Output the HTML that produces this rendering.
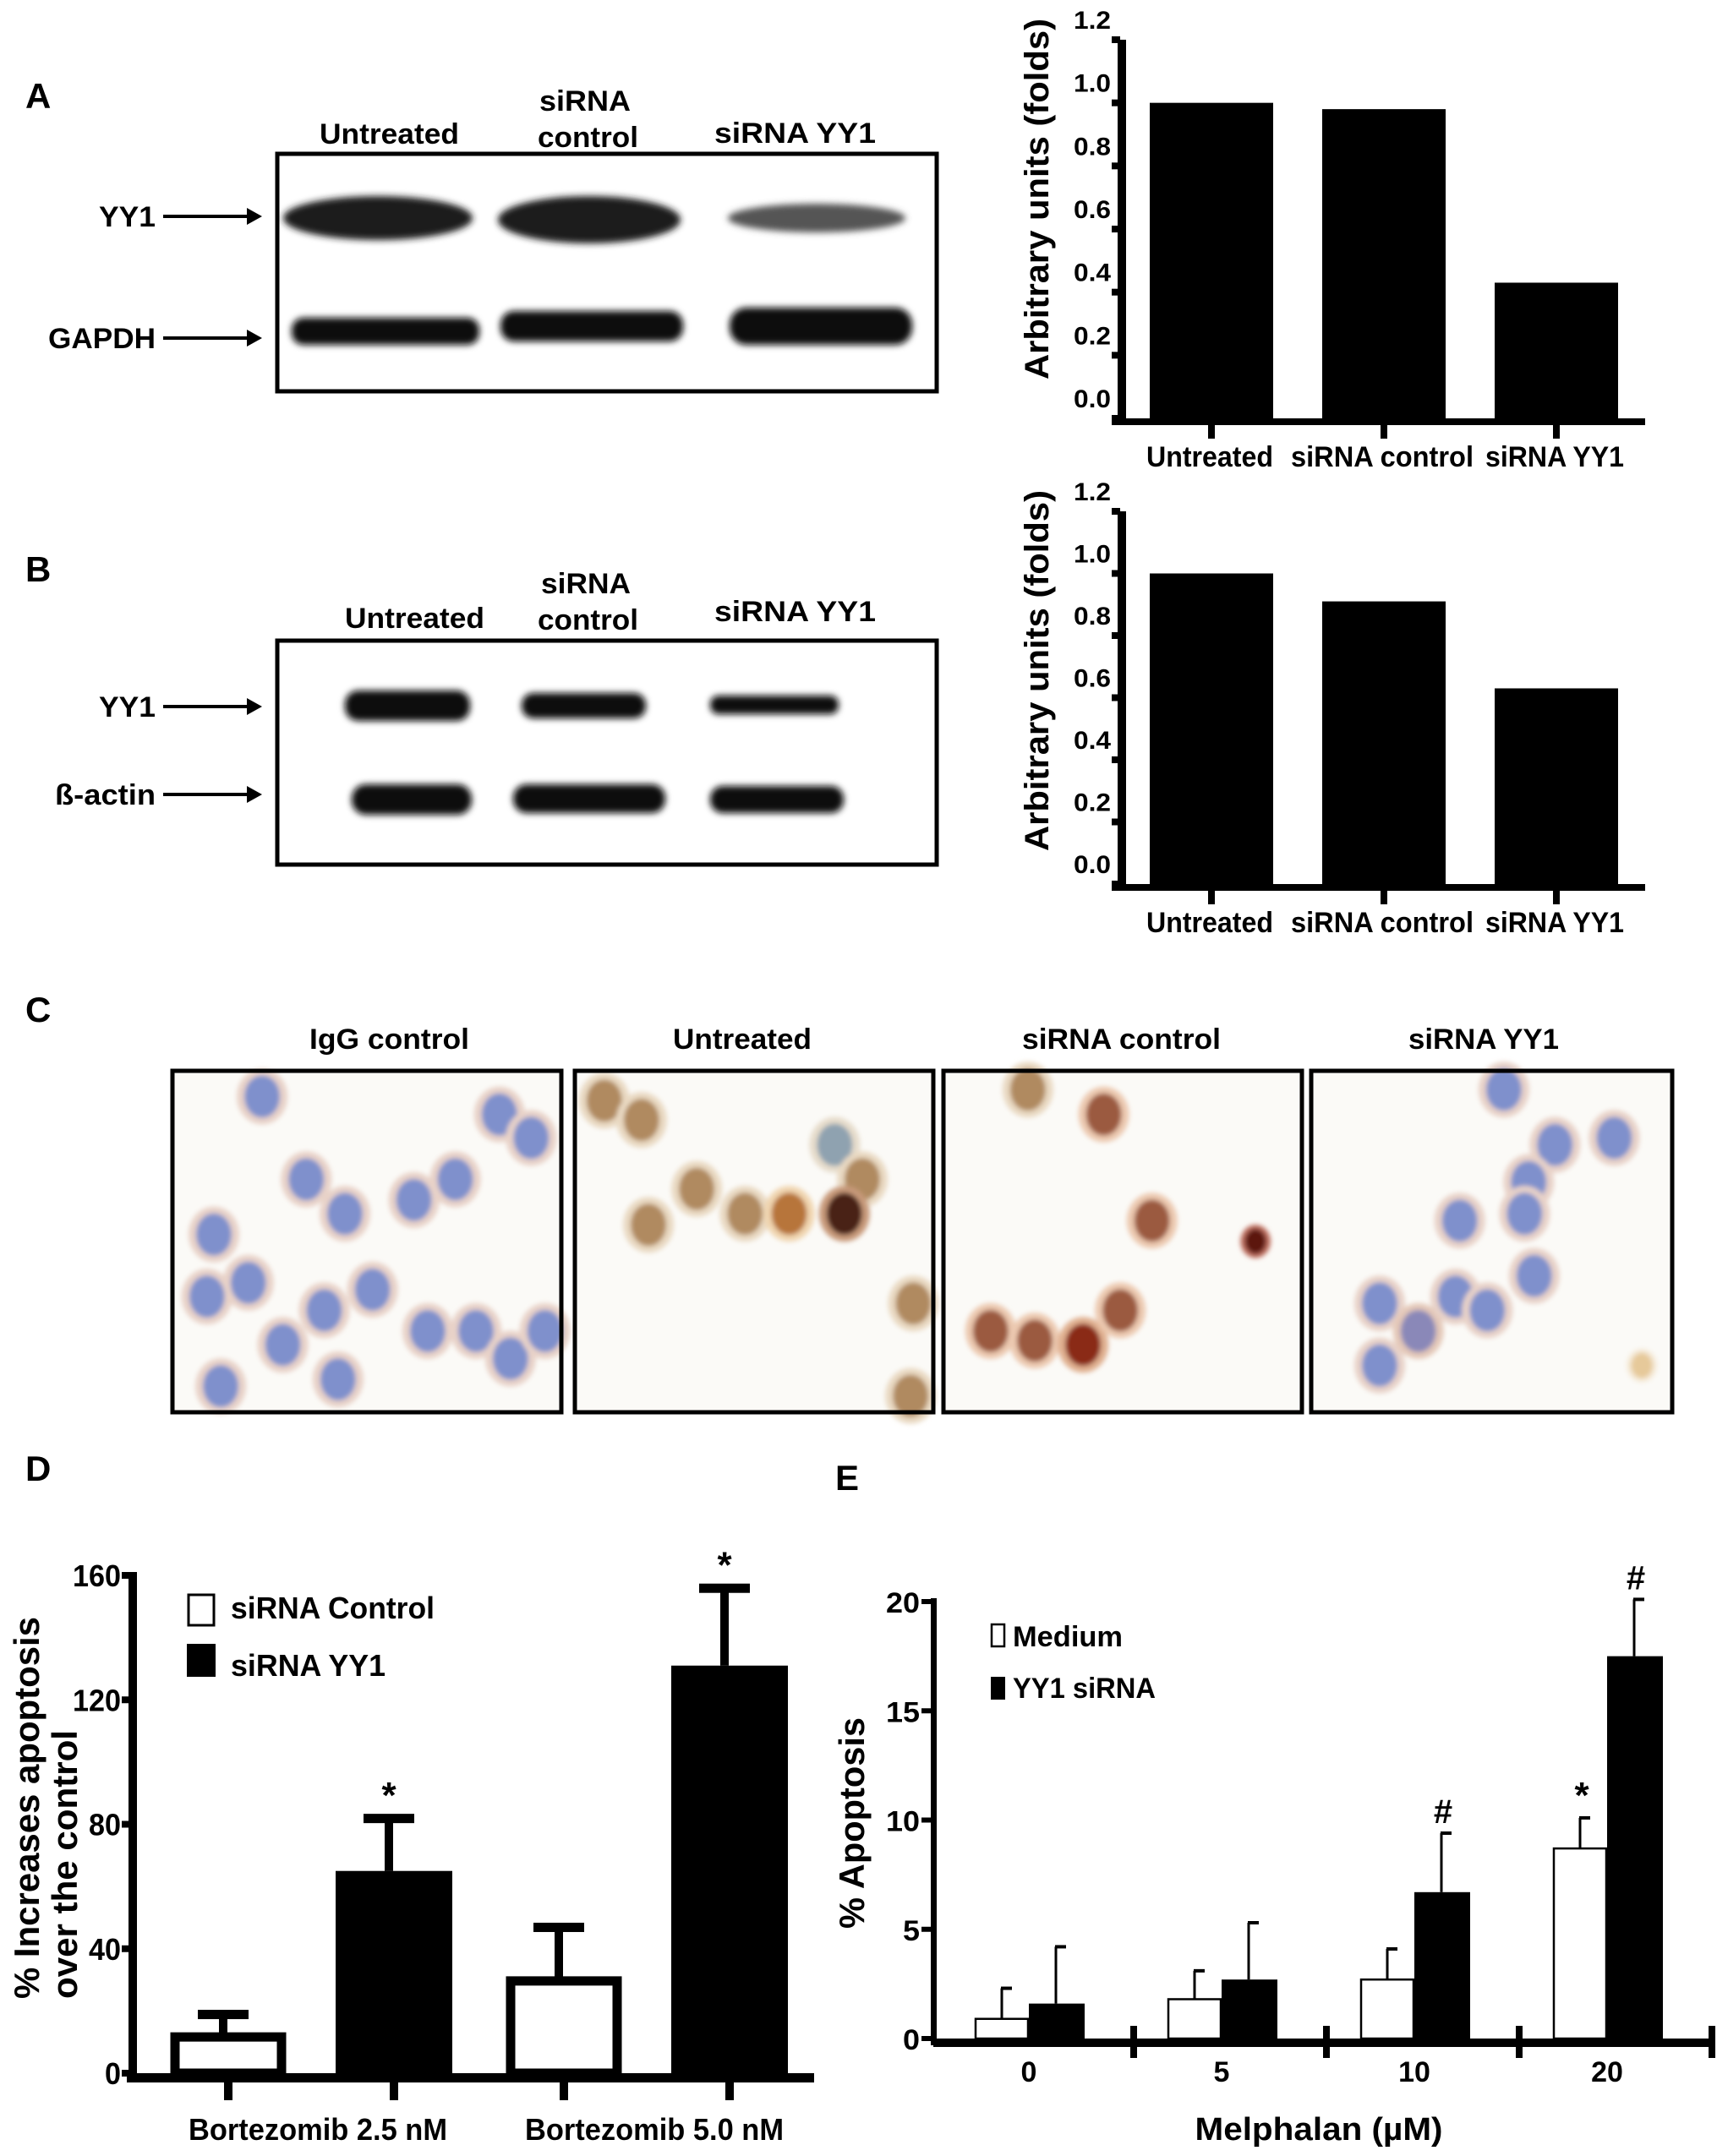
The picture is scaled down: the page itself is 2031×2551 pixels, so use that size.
<!DOCTYPE html>
<html><head><meta charset="utf-8"><style>
html,body{margin:0;padding:0;background:#fff;}
svg{display:block;font-family:"Liberation Sans",sans-serif;font-weight:bold;}
</style></head><body>
<svg id="fig" xmlns="http://www.w3.org/2000/svg" width="2031" height="2551" viewBox="0 0 2031 2551">
<defs>
<filter id="blur" x="-20%" y="-50%" width="140%" height="200%"><feGaussianBlur stdDeviation="4"/></filter>
<filter id="cblur" x="-30%" y="-30%" width="160%" height="160%"><feGaussianBlur stdDeviation="3"/></filter>
</defs>
<rect width="2031" height="2551" fill="#fff"/>

<!-- Panel letters -->
<text x="30" y="128" font-size="42">A</text>
<text x="30" y="688" font-size="42">B</text>
<text x="30" y="1209" font-size="42">C</text>
<text x="30" y="1752" font-size="42">D</text>
<text x="988" y="1763" font-size="42">E</text>

<!-- Blot A -->
<g>
<text x="378" y="170" font-size="34" textLength="165" lengthAdjust="spacingAndGlyphs">Untreated</text>
<text x="638" y="131" font-size="34" textLength="108" lengthAdjust="spacingAndGlyphs">siRNA</text>
<text x="636" y="174" font-size="34" textLength="119" lengthAdjust="spacingAndGlyphs">control</text>
<text x="845" y="169" font-size="34" textLength="191" lengthAdjust="spacingAndGlyphs">siRNA  YY1</text>
<rect x="328" y="182" width="780" height="281" fill="#fff" stroke="#000" stroke-width="5"/>
<g filter="url(#blur)">
<ellipse cx="447" cy="258" rx="112" ry="26" fill="#1a1a1a"/>
<ellipse cx="697" cy="260" rx="108" ry="28" fill="#1a1a1a"/>
<ellipse cx="966" cy="258" rx="105" ry="17" fill="#555"/>
<rect x="345" y="376" width="222" height="32" rx="14" fill="#080808"/>
<rect x="592" y="368" width="216" height="36" rx="16" fill="#080808"/>
<rect x="863" y="364" width="216" height="44" rx="20" fill="#080808"/>
</g>
<text x="184" y="268" font-size="34" text-anchor="end" textLength="67" lengthAdjust="spacingAndGlyphs">YY1</text>
<line x1="193" y1="256" x2="295" y2="256" stroke="#000" stroke-width="4"/>
<polygon points="292,246 310,256 292,266" fill="#000"/>
<text x="184" y="412" font-size="34" text-anchor="end" textLength="127" lengthAdjust="spacingAndGlyphs">GAPDH</text>
<line x1="193" y1="400" x2="295" y2="400" stroke="#000" stroke-width="4"/>
<polygon points="292,390 310,400 292,410" fill="#000"/>
</g>

<!-- Blot B -->
<g>
<text x="408" y="743" font-size="34" textLength="165" lengthAdjust="spacingAndGlyphs">Untreated</text>
<text x="640" y="702" font-size="34" textLength="106" lengthAdjust="spacingAndGlyphs">siRNA</text>
<text x="636" y="745" font-size="34" textLength="119" lengthAdjust="spacingAndGlyphs">control</text>
<text x="845" y="735" font-size="34" textLength="191" lengthAdjust="spacingAndGlyphs">siRNA  YY1</text>
<rect x="328" y="758" width="780" height="265" fill="#fff" stroke="#000" stroke-width="5"/>
<g filter="url(#blur)">
<rect x="408" y="817" width="148" height="36" rx="16" fill="#080808"/>
<rect x="617" y="820" width="147" height="30" rx="14" fill="#080808"/>
<rect x="840" y="823" width="152" height="22" rx="10" fill="#111"/>
<rect x="416" y="928" width="142" height="36" rx="17" fill="#080808"/>
<rect x="607" y="928" width="180" height="34" rx="16" fill="#080808"/>
<rect x="840" y="930" width="158" height="32" rx="15" fill="#080808"/>
</g>
<text x="184" y="848" font-size="34" text-anchor="end" textLength="67" lengthAdjust="spacingAndGlyphs">YY1</text>
<line x1="193" y1="836" x2="295" y2="836" stroke="#000" stroke-width="4"/>
<polygon points="292,826 310,836 292,846" fill="#000"/>
<text x="184" y="952" font-size="34" text-anchor="end" textLength="119" lengthAdjust="spacingAndGlyphs">ß-actin</text>
<line x1="193" y1="940" x2="295" y2="940" stroke="#000" stroke-width="4"/>
<polygon points="292,930 310,940 292,950" fill="#000"/>
</g>

<g id="chartA"></g>
<g id="chartB"></g>

<!-- Panel C -->
<g id="panelC">
<text x="366" y="1241" font-size="34" textLength="189" lengthAdjust="spacingAndGlyphs">IgG control</text>
<text x="796" y="1241" font-size="34" textLength="164" lengthAdjust="spacingAndGlyphs">Untreated</text>
<text x="1209" y="1241" font-size="34" textLength="235" lengthAdjust="spacingAndGlyphs">siRNA control</text>
<text x="1666" y="1241" font-size="34" textLength="178" lengthAdjust="spacingAndGlyphs">siRNA YY1</text>
</g>

<g id="chartD"></g>
<g id="chartE"></g>
</svg>
<script>
const NS = 'http://www.w3.org/2000/svg';
function mk(parent, tag, attrs, txt) {
  const el = document.createElementNS(NS, tag);
  for (const k in attrs) el.setAttribute(k, attrs[k]);
  if (txt !== undefined) el.textContent = txt;
  parent.appendChild(el);
  return el;
}

/* ---------- Charts A / B data ---------- */
const catsAB = ['Untreated', 'siRNA control', 'siRNA YY1'];
const valsA = [1.0, 0.98, 0.43];
const valsB = [1.0, 0.91, 0.63];
const ticksAB = [0, 0.2, 0.4, 0.6, 0.8, 1.0, 1.2];
const tickLabelsAB = ['0.0', '0.2', '0.4', '0.6', '0.8', '1.0', '1.2'];

/* ---------- Chart D data ---------- */
const catsD = ['Bortezomib 2.5 nM', 'Bortezomib 5.0 nM'];
const seriesD = ['siRNA Control', 'siRNA YY1'];
const ctrlD = [13, 31];
const ctrlErrD = [6, 16];
const yy1D = [65, 131];
const yy1ErrD = [17, 25];
const ticksD = [0, 40, 80, 120, 160];
const tickLabelsD = ['0', '40', '80', '120', '160'];

/* ---------- Chart E data ---------- */
const catsE = ['0', '5', '10', '20'];
const seriesE = ['Medium', 'YY1 siRNA'];
const medE = [0.9, 1.8, 2.7, 8.7];
const medErrE = [1.4, 1.3, 1.4, 1.4];
const yy1E = [1.6, 2.7, 6.7, 17.5];
const yy1ErrE = [2.6, 2.6, 2.7, 2.6];
const medMarkE = ['', '', '', '*'];
const yy1MarkE = ['', '', '#', '#'];
const ticksE = [0, 5, 10, 15, 20];
const tickLabelsE = ['0', '5', '10', '15', '20'];

function drawAB(g, vals, base, top, prefix) {
  const y = v => base - v / 1.2 * (base - top);
  const x = i => 1433 + i * 204;
  const t = mk(g, 'text', {x: 0, y: 0, 'font-size': 40, transform: 'translate(1240,' + (top + 402) + ') rotate(-90)', textLength: 427, lengthAdjust: 'spacingAndGlyphs'}, 'Arbitrary units (folds)');
  
  
  vals.forEach((v, i) => {
    const b = mk(g, 'rect', {x: x(i) - 73, y: y(v), width: 146, height: base - y(v), fill: '#000'});
    
    
    const tk = mk(g, 'rect', {x: x(i) - 4, y: base, width: 8, height: 24, fill: '#000'});
    
    
  });
  const wc = [150, 216, 164];
  catsAB.forEach((c, i) => {
    const lt = mk(g, 'text', {x: x(i) - 2, y: base + 57, 'font-size': 34, 'text-anchor': 'middle', textLength: wc[i], lengthAdjust: 'spacingAndGlyphs'}, c);
    
    
  });
  const ax = mk(g, 'rect', {x: 1322, y: top, width: 10, height: base - top + 8, fill: '#000'});
  
  
  const bl = mk(g, 'rect', {x: 1315, y: base, width: 631, height: 8, fill: '#000'});
  
  
  ticksAB.forEach((v, i) => {
    const tm = mk(g, 'rect', {x: 1315, y: y(v) - 4, width: 10, height: 8, fill: '#000'});
    
    
    const tl = mk(g, 'text', {x: 1314, y: y(v) - 13, 'font-size': 30, 'text-anchor': 'end', textLength: 44, lengthAdjust: 'spacingAndGlyphs'}, tickLabelsAB[i]);
    
    
  });
}
drawAB(document.getElementById('chartA'), valsA, 495, 47, 'chart-a');
drawAB(document.getElementById('chartB'), valsB, 1046, 605, 'chart-b');

/* ---------- Panel C micrographs ---------- */
const pc = document.getElementById('panelC');
const frames = [[204, 1267, 460, 404], [680, 1267, 424, 404], [1116, 1267, 424, 404], [1551, 1267, 427, 404]];
const cellsC = [
  [[190,795,'b'],[222,855,'b'],[155,895,'b'],[180,930,'b'],[250,880,'b'],[270,935,'b'],[300,870,'b'],[330,855,'b'],[362,808,'b'],[385,825,'b'],[235,950,'b'],[205,975,'b'],[245,1000,'b'],[310,965,'b'],[345,965,'b'],[370,985,'b'],[395,965,'b'],[160,1005,'b'],[150,940,'b']],
  [[438,798,'t'],[465,812,'t'],[605,830,'g'],[625,855,'t'],[470,888,'t'],[505,862,'t'],[540,880,'t'],[572,880,'o'],[612,880,'d'],[662,945,'t'],[660,1012,'t']],
  [[745,790,'t'],[800,808,'r'],[835,885,'r'],[910,900,'x'],[718,965,'r'],[750,972,'r'],[785,975,'x2'],[812,950,'r']],
  [[1090,790,'b'],[1127,830,'b'],[1108,857,'b'],[1058,885,'b'],[1170,825,'b'],[1105,880,'b'],[1000,945,'b'],[1028,965,'bt'],[1055,940,'b'],[1078,950,'b'],[1112,925,'b'],[1000,990,'b'],[1190,990,'y']]
];
const cellColors = {b:['#7f90cc','#e8d2c8'], t:['#b08a60','#e9d9c2'], g:['#8fa2b0','#e6dccb'], o:['#b7743a','#f0d5b0'], d:['#4a2218','#c89a7a'], r:['#9b5a40','#ecc9b0'], x:['#5c1510','#c07060'], x2:['#8a2a18','#e0b090'], bt:['#8a88b8','#e4c8b8'], y:['#e6c99a','#f5ead8']};
frames.forEach((f, k) => {
  const bg = mk(pc, 'rect', {x: f[0], y: f[1], width: f[2], height: f[3], fill: '#fbfaf7'});
  
  
  const cg = mk(pc, 'g', {filter: 'url(#cblur)'});
  cellsC[k].forEach((c, j) => {
    const col = cellColors[c[2]];
    const cx = c[0] * 1.632, cy = c[1] * 1.632;
    const small = (c[2] === 'x' || c[2] === 'y') ? 0.6 : 1;
    const halo = mk(cg, 'ellipse', {cx: cx, cy: cy, rx: 30 * small, ry: 33 * small, fill: col[1]});
    
    
    const core = mk(cg, 'ellipse', {cx: cx, cy: cy, rx: 21 * small, ry: 25 * small, fill: col[0]});
    
    
  });
  const fr = mk(pc, 'rect', {x: f[0], y: f[1], width: f[2], height: f[3], fill: 'none', stroke: '#000', 'stroke-width': 5});
  
  
});

/* ---------- Chart D ---------- */
(function () {
  const g = document.getElementById('chartD');
  const base = 2453, top = 1864;
  const y = v => base - v / 160 * (base - top);
  const x = (gi, s) => 270 + gi * 397 + s * 196;
  const lbls = ['% Increases apoptosis', 'over the control'];
  const t1 = mk(g, 'text', {x: 0, y: 0, 'font-size': 42, transform: 'translate(46,2365) rotate(-90)', textLength: 452, lengthAdjust: 'spacingAndGlyphs'}, lbls[0]);
  
  
  const t2 = mk(g, 'text', {x: 0, y: 0, 'font-size': 42, transform: 'translate(91,2365) rotate(-90)', textLength: 318, lengthAdjust: 'spacingAndGlyphs'}, lbls[1]);
  
  
  function bar(gi, s, v, e, name) {
    const cx = x(gi, s);
    const el = mk(g, 'line', {x1: cx - 6, y1: y(v), x2: cx - 6, y2: y(v + e), stroke: '#000', 'stroke-width': 10});
    
    
    const cap = mk(g, 'rect', {x: cx - 36, y: y(v + e) - 5, width: 60, height: 11, fill: '#000'});
    
    
    const b = s === 0
      ? mk(g, 'rect', {x: cx - 63, y: y(v) + 5, width: 126, height: base - y(v) - 5, fill: '#fff', stroke: '#000', 'stroke-width': 11})
      : mk(g, 'rect', {x: cx - 69, y: y(v), width: 138, height: base - y(v), fill: '#000'});
    
    
  }
  catsD.forEach((c, gi) => {
    bar(gi, 0, ctrlD[gi], ctrlErrD[gi], 'chart-d-bar-control-' + gi);
    bar(gi, 1, yy1D[gi], yy1ErrD[gi], 'chart-d-bar-yy1-' + gi);
    const st = mk(g, 'text', {x: x(gi, 1) - 6, y: y(yy1D[gi] + yy1ErrD[gi]) - 12, 'font-size': 44, 'text-anchor': 'middle'}, '*');
    
    
    const lb = mk(g, 'text', {x: 376 + gi * 398, y: 2532, 'font-size': 36, 'text-anchor': 'middle', textLength: 306, lengthAdjust: 'spacingAndGlyphs'}, c);
    
    
    [0, 1].forEach(s => {
      const tk = mk(g, 'rect', {x: x(gi, s) - 5, y: base, width: 10, height: 32, fill: '#000'});
      
      
    });
  });
  const ax = mk(g, 'rect', {x: 152, y: top - 4, width: 10, height: base - top + 15, fill: '#000'});
  
  
  const bl = mk(g, 'rect', {x: 150, y: base, width: 813, height: 11, fill: '#000'});
  
  
  ticksD.forEach((v, i) => {
    const tm = mk(g, 'rect', {x: 144, y: y(v) - 4, width: 10, height: 8, fill: '#000'});
    
    
    const tl = mk(g, 'text', {x: 143, y: y(v) + 13, 'font-size': 36, 'text-anchor': 'end', textLength: tickLabelsD[i].length * 19, lengthAdjust: 'spacingAndGlyphs'}, tickLabelsD[i]);
    
    
  });
  const l1 = mk(g, 'rect', {x: 223, y: 1887, width: 30, height: 36, fill: '#fff', stroke: '#000', 'stroke-width': 3});
  
  
  const l1t = mk(g, 'text', {x: 273, y: 1915, 'font-size': 36, textLength: 241, lengthAdjust: 'spacingAndGlyphs'}, seriesD[0]);
  
  
  const l2 = mk(g, 'rect', {x: 221, y: 1945, width: 34, height: 39, fill: '#000'});
  
  
  const l2t = mk(g, 'text', {x: 273, y: 1983, 'font-size': 36, textLength: 183, lengthAdjust: 'spacingAndGlyphs'}, seriesD[1]);
  
  
})();

/* ---------- Chart E ---------- */
(function () {
  const g = document.getElementById('chartE');
  const base = 2412, top = 1895;
  const y = v => base - v / 20 * (base - top);
  const c = gi => 1217 + gi * 228;
  const t = mk(g, 'text', {x: 0, y: 0, 'font-size': 42, transform: 'translate(1022,2282) rotate(-90)', textLength: 250, lengthAdjust: 'spacingAndGlyphs'}, '% Apoptosis');
  
  
  function bar(gi, s, v, e, mark, name) {
    const x0 = s === 0 ? c(gi) - 64 : c(gi);
    const xm = x0 + 32;
    const el = mk(g, 'line', {x1: xm, y1: y(v), x2: xm, y2: y(v + e), stroke: '#000', 'stroke-width': 3});
    
    
    const cap = mk(g, 'line', {x1: xm - 1, y1: y(v + e), x2: xm + 12, y2: y(v + e), stroke: '#000', 'stroke-width': 4});
    
    
    const b = s === 0
      ? mk(g, 'rect', {x: x0 + 1, y: y(v), width: 62, height: base - y(v), fill: '#fff', stroke: '#000', 'stroke-width': 2.5})
      : mk(g, 'rect', {x: x0, y: y(v), width: 66, height: base - y(v), fill: '#000'});
    
    
    if (mark) {
      const m = mk(g, 'text', {x: xm + 2, y: y(v + e) - 12, 'font-size': mark === '#' ? 40 : 44, 'text-anchor': 'middle'}, mark);
      
      
    }
  }
  catsE.forEach((cat, gi) => {
    bar(gi, 0, medE[gi], medErrE[gi], medMarkE[gi], 'chart-e-bar-medium-' + gi);
    bar(gi, 1, yy1E[gi], yy1ErrE[gi], yy1MarkE[gi], 'chart-e-bar-yy1-' + gi);
    const lb = mk(g, 'text', {x: c(gi), y: 2463, 'font-size': 34, 'text-anchor': 'middle'}, cat);
    
    
    const sep = mk(g, 'rect', {x: c(gi) + 120, y: 2397, width: 8, height: 38, fill: '#000'});
    
    
  });
  const ax = mk(g, 'rect', {x: 1101, y: top - 4, width: 7, height: base - top + 12, fill: '#000'});
  
  
  const bl = mk(g, 'rect', {x: 1104, y: base, width: 921, height: 10, fill: '#000'});
  
  
  ticksE.forEach((v, i) => {
    const tm = mk(g, 'rect', {x: 1090, y: y(v) - 3, width: 14, height: 6, fill: '#000'});
    
    
    const tl = mk(g, 'text', {x: 1088, y: y(v) + 13, 'font-size': 34, 'text-anchor': 'end', textLength: tickLabelsE[i].length * 20, lengthAdjust: 'spacingAndGlyphs'}, tickLabelsE[i]);
    
    
  });
  const xt = mk(g, 'text', {x: 1560, y: 2532, 'font-size': 38, 'text-anchor': 'middle', textLength: 293, lengthAdjust: 'spacingAndGlyphs'}, 'Melphalan (µM)');
  
  
  const l1 = mk(g, 'rect', {x: 1173, y: 1922, width: 15, height: 26, fill: '#fff', stroke: '#000', 'stroke-width': 2.5});
  
  
  const l1t = mk(g, 'text', {x: 1198, y: 1948, 'font-size': 34, textLength: 130, lengthAdjust: 'spacingAndGlyphs'}, seriesE[0]);
  
  
  const l2 = mk(g, 'rect', {x: 1172, y: 1984, width: 17, height: 27, fill: '#000'});
  
  
  const l2t = mk(g, 'text', {x: 1198, y: 2009, 'font-size': 34, textLength: 169, lengthAdjust: 'spacingAndGlyphs'}, seriesE[1]);
  
  
})();
</script>
</body></html>
